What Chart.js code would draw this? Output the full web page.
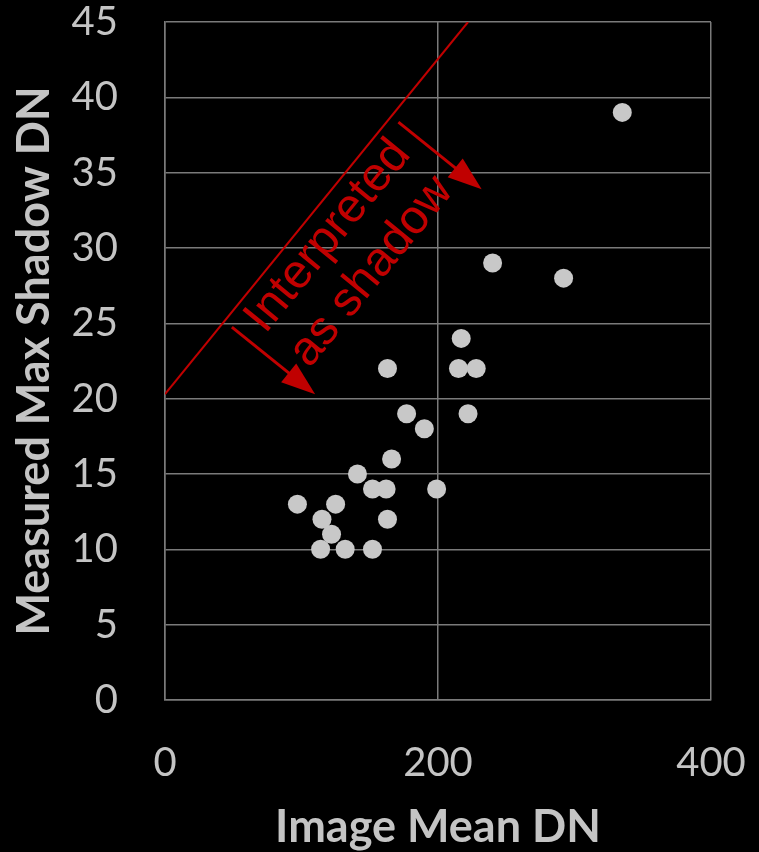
<!DOCTYPE html>
<html>
<head>
<meta charset="utf-8">
<script src="https://cdn.jsdelivr.net/npm/chart.js"></script>
<style>
  html, body { margin: 0; padding: 0; background: #000; }
  #wrap { width: 759px; height: 852px; }
</style>
</head>
<body>
<div id="wrap"><canvas id="chart"></canvas></div>
<script>
// scatter points
const meanDN = [335, 240, 292, 217, 215, 228, 163, 222, 177, 190, 166, 141, 152, 162, 199, 97, 125, 115, 163, 122, 114, 132, 152];
const maxShadowDN = [39, 29, 28, 24, 22, 22, 22, 19, 19, 18, 16, 15, 14, 14, 14, 13, 13, 12, 12, 11, 10, 10, 10];

// threshold line
const lineX = [0, 222];
const lineY = [20.3, 45];

const xTicks = [0, 200, 400];
const yTicks = [0, 5, 10, 15, 20, 25, 30, 35, 40, 45];

const noteLines = ['Interpreted', 'as shadow'];

const red = '#c00000';
const gridGray = '#7a7a7a';
const textGray = '#c4c4c4';

const points = meanDN.map((x, i) => ({ x: x, y: maxShadowDN[i] }));
const linePts = lineX.map((x, i) => ({ x: x, y: lineY[i] }));

// arrows + rotated label, placed in data coordinates
const notePlugin = {
    id: 'note',
    afterDatasetsDraw(chart) {
        const ctx = chart.ctx;
        const xs = chart.scales.x, ys = chart.scales.y;
        const px = v => xs.getPixelForValue(v);
        const py = v => ys.getPixelForValue(v);

        const ang = Math.atan2(py(lineY[1]) - py(lineY[0]), px(lineX[1]) - px(lineX[0]));

        const arrow = (x0, y0, x1, y1) => {
            const ax = px(x0), ay = py(y0), bx = px(x1), by = py(y1);
            const a = Math.atan2(by - ay, bx - ax);
            const hl = 34, hw = 12;
            ctx.save();
            ctx.strokeStyle = red;
            ctx.fillStyle = red;
            ctx.lineWidth = 3;
            ctx.beginPath();
            ctx.moveTo(ax, ay);
            ctx.lineTo(bx - Math.cos(a) * hl * 0.8, by - Math.sin(a) * hl * 0.8);
            ctx.stroke();
            ctx.beginPath();
            ctx.moveTo(bx, by);
            ctx.lineTo(bx - Math.cos(a) * hl - Math.sin(a) * hw, by - Math.sin(a) * hl + Math.cos(a) * hw);
            ctx.lineTo(bx - Math.cos(a) * hl + Math.sin(a) * hw, by - Math.sin(a) * hl - Math.cos(a) * hw);
            ctx.closePath();
            ctx.fill();
            ctx.restore();
        };
        arrow(49, 24.75, 110, 20.3);
        arrow(171, 38.35, 232, 33.9);

        ctx.save();
        ctx.translate(px(135.5), py(29.6));
        ctx.rotate(ang);
        ctx.fillStyle = red;
        ctx.font = '48px "Liberation Sans", Arial, sans-serif';
        ctx.textAlign = 'center';
        ctx.textBaseline = 'middle';
        ctx.fillText(noteLines[0], 0, -28);
        ctx.fillText(noteLines[1], 0, 28);
        ctx.restore();
    }
};

new Chart(document.getElementById('chart'), {
    type: 'scatter',
    data: {
        datasets: [{
            label: 'shadow',
            data: points,
            backgroundColor: '#c8c8c8',
            borderWidth: 0,
            pointRadius: 9.5,
            pointHoverRadius: 9.5
        }, {
            type: 'line',
            label: 'threshold',
            data: linePts,
            borderColor: red,
            borderWidth: 2,
            pointRadius: 0,
            fill: false
        }]
    },
    options: {
        responsive: true,
        maintainAspectRatio: false,
        animation: false,
        layout: { padding: { top: 22, right: 48, left: 0, bottom: 0 } },
        plugins: {
            legend: { display: false },
            tooltip: { enabled: false }
        },
        scales: {
            x: {
                type: 'linear',
                min: 0,
                max: 400,
                afterBuildTicks: s => { s.ticks = xTicks.map(v => ({ value: v })); },
                afterFit: s => { s.height = 152; },
                grid: { color: gridGray, lineWidth: 1.5, drawTicks: true, tickLength: 41, tickColor: 'rgba(0,0,0,0)' },
                border: { color: gridGray, width: 1.5 },
                ticks: {
                    color: textGray,
                    padding: 0,
                    font: { family: 'Lato', size: 40, lineHeight: 1.1 }
                },
                title: {
                    display: true,
                    text: 'Image Mean DN',
                    color: textGray,
                    padding: { top: 0, bottom: 0 },
                    font: { family: 'Lato', size: 45, weight: 'bold', lineHeight: 1.1 }
                }
            },
            y: {
                type: 'linear',
                min: 0,
                max: 45,
                afterBuildTicks: s => { s.ticks = yTicks.map(v => ({ value: v })); },
                afterFit: s => { s.width = 165; },
                grid: { color: gridGray, lineWidth: 1.5, drawTicks: true, tickLength: 47, tickColor: 'rgba(0,0,0,0)' },
                border: { color: gridGray, width: 1.5 },
                ticks: {
                    color: textGray,
                    padding: 0,
                    font: { family: 'Lato', size: 40, lineHeight: 1.1 }
                },
                title: {
                    display: true,
                    text: 'Measured Max Shadow DN',
                    color: textGray,
                    padding: { top: 10, bottom: 0 },
                    font: { family: 'Lato', size: 45, weight: 'bold', lineHeight: 1.1 }
                }
            }
        }
    },
    plugins: [notePlugin]
});
</script>
</body>
</html>
